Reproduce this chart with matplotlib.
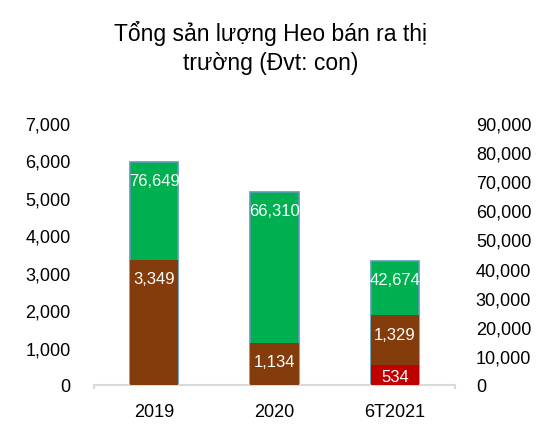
import matplotlib
matplotlib.use("Agg")
from matplotlib import pyplot as plt
import numpy as np

plt.rcParams['font.family'] = ['Liberation Sans', 'DejaVu Sans']

# data
years = ["2019", "2020", "6T2021"]
green_vals = [76649, 66310, 42674]   # right axis
brown_vals = [3349, 1134, 1329]      # left axis
red_vals = [0, 0, 534]               # left axis, stacked under brown

GREEN = "#00B050"
BROWN = "#843C0C"
RED = "#C00000"
EDGE = "#5B9BB5"
AXCOL = "#D9D9D9"

W, H = 538, 439
fig = plt.figure(figsize=(W / 100, H / 100), dpi=100)
left, right, bottom, top = 94, 455, 386, 124
ax = fig.add_axes([left / W, 1 - bottom / H, (right - left) / W, (bottom - top) / H])
ax2 = ax.twinx()

x = np.arange(len(years))
bw = 0.4

# green on right axis, drawn behind
ax.set_zorder(2)
ax.patch.set_visible(False)
ax2.bar(x, green_vals, width=bw, color=GREEN, edgecolor=EDGE, linewidth=1.2, zorder=1)

ax.bar(x, red_vals, width=bw, color=RED, zorder=2)
ax.bar(x, brown_vals, width=bw, bottom=red_vals, color=BROWN, zorder=2)

ax.set_xlim(-0.5, 2.5)
ax.set_ylim(0, 7000)
ax2.set_ylim(0, 90000)
ax.set_yticks(np.arange(0, 7001, 1000))
ax2.set_yticks(np.arange(0, 90001, 10000))
ax.set_yticklabels([f"{v:,}" for v in range(0, 7001, 1000)])
ax2.set_yticklabels([f"{v:,}" for v in range(0, 90001, 10000)])
ax.set_xticks(x)
ax.set_xticklabels(years)

for a in (ax, ax2):
    for s in a.spines.values():
        s.set_visible(False)
ax.tick_params(axis='y', length=0, pad=17, labelsize=13, colors='#000000')
ax2.tick_params(axis='y', length=0, pad=15, labelsize=13, colors='#000000')
ax.tick_params(axis='x', length=0, pad=13, labelsize=13)

# baseline with small end ticks
ax.plot([-0.5, 2.5], [0, 0], color=AXCOL, lw=1.5, clip_on=False, zorder=0)
for xe in (-0.5, 2.5):
    ax.plot([xe, xe], [0, -80], color=AXCOL, lw=1.5, clip_on=False, zorder=0)

px_per_left = (bottom - top) / 7000
px_per_right = (bottom - top) / 90000


def put_label(axis, xi, topval, seg_px, val):
    off = min(19, seg_px / 2 + 1)
    axis.annotate(f"{val:,}", (xi, topval), xytext=(0, -off), textcoords='offset pixels',
                  ha='center', va='center', color='white', fontsize=12, zorder=5)


for i in range(len(years)):
    put_label(ax2, x[i], green_vals[i], green_vals[i] * px_per_right, green_vals[i])
    put_label(ax, x[i], red_vals[i] + brown_vals[i], brown_vals[i] * px_per_left, brown_vals[i])
    if red_vals[i]:
        put_label(ax, x[i], red_vals[i], red_vals[i] * px_per_left, red_vals[i])

fig.text(271 / W, 1 - 48 / H, "Tổng sản lượng Heo bán ra thị\ntrường (Đvt: con)",
         ha='center', va='center', fontsize=16.5, linespacing=1.3)

fig.savefig("out.png", dpi=100)
